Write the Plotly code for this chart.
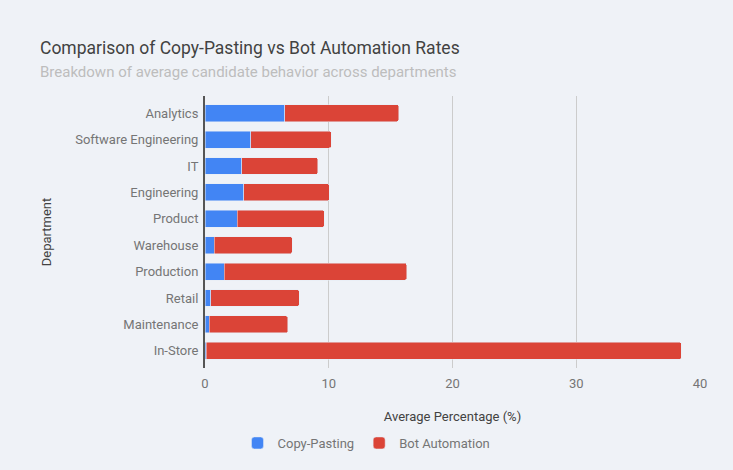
import plotly.graph_objects as go

departments = ["Analytics", "Software Engineering", "IT", "Engineering", "Product",
               "Warehouse", "Production", "Retail", "Maintenance", "In-Store"]
copy_pasting = [6.45, 3.7, 2.95, 3.15, 2.6, 0.75, 1.55, 0.45, 0.35, 0.1]
bot_automation = [9.2, 6.5, 6.15, 6.9, 7.05, 6.3, 14.75, 7.15, 6.35, 38.4]

fig = go.Figure()
fig.add_trace(go.Bar(y=departments, x=copy_pasting, name="Copy-Pasting",
                     orientation="h", marker=dict(color="#4285F4")))
fig.add_trace(go.Bar(y=departments, x=bot_automation, name="Bot Automation",
                     orientation="h", marker=dict(color="#DB4437")))

fig.update_layout(
    barmode="stack",
    bargap=0.36,
    barcornerradius=2,
    width=733, height=470,
    paper_bgcolor="#EFF2F7", plot_bgcolor="#EFF2F7",
    font=dict(family="Roboto", size=13, color="#757575"),
    margin=dict(l=205, r=33, t=96, b=102, autoexpand=False),
    title=dict(
        text="Comparison of Copy-Pasting vs Bot Automation Rates",
        x=40 / 733, xref="container", xanchor="left",
        y=1 - 48 / 470, yref="container", yanchor="middle",
        font=dict(size=17.5, color="#424242"),
    ),
    legend=dict(orientation="h", xref="container", x=0.5, xanchor="center",
                y=27 / 470, yref="container", yanchor="middle",
                font=dict(size=13, color="#757575"), traceorder="normal"),
    xaxis=dict(
        range=[0, 40], dtick=10, showgrid=True, gridcolor="#CCCCCC",
        zeroline=False, ticks="outside", ticklen=3, tickcolor="rgba(0,0,0,0)",
        tickfont=dict(size=13, color="#757575"), automargin=False,
        title=dict(text="Average Percentage (%)", standoff=22,
                   font=dict(size=13, color="#424242")),
    ),
    yaxis=dict(
        range=[9.65, -0.65], showline=True, linecolor="#555555", linewidth=2,
        ticks="outside", ticklen=2, tickcolor="rgba(0,0,0,0)",
        tickfont=dict(size=13, color="#757575"), automargin=False,
        title=dict(text="Department", standoff=21,
                   font=dict(size=13, color="#424242")),
    ),
)
fig.add_annotation(text="Breakdown of average candidate behavior across departments",
                   xref="paper", yref="paper", x=-167 / 495, y=1 + 24 / 272,
                   xanchor="left", yanchor="middle", showarrow=False,
                   font=dict(size=15, color="#BDBDBD"))

fig.write_html("out.html", config={"displayModeBar": False},
               post_script="document.body.style.margin='0';")
